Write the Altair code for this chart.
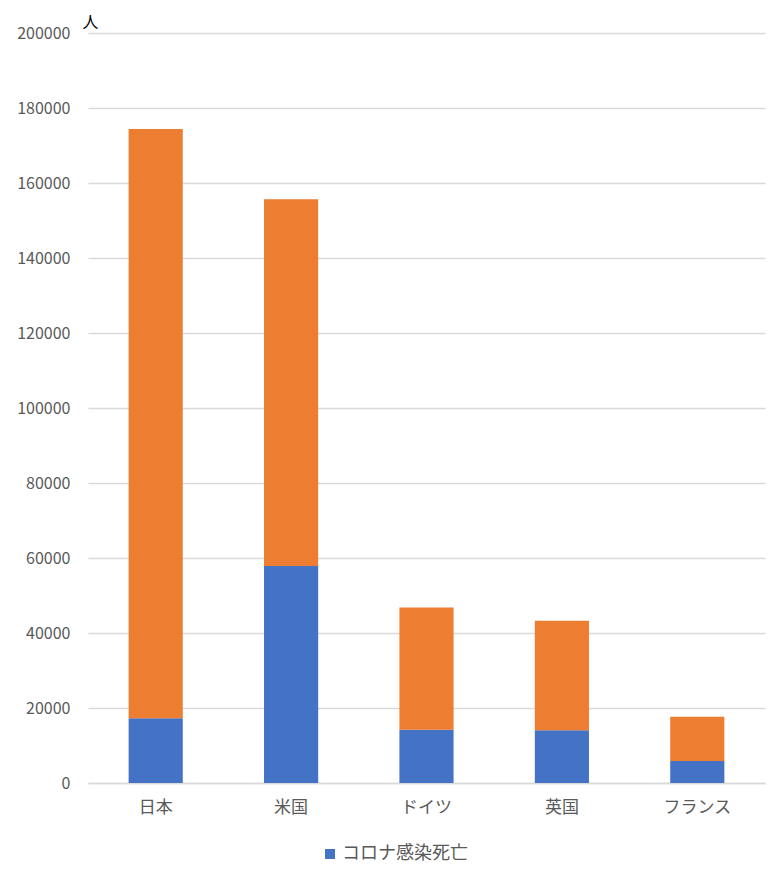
import altair as alt
import pandas as pd

countries = ["日本", "米国", "ドイツ", "英国", "フランス"]
covid_deaths = [17300, 57900, 14200, 14100, 5900]
totals = [174400, 155700, 46800, 43300, 17700]
series = ["コロナ感染死亡", "その他"]
colors = ["#4472C4", "#ED7D31"]
y_ticks = [0, 20000, 40000, 60000, 80000, 100000, 120000, 140000, 160000, 180000, 200000]

rows = []
for c, d, t in zip(countries, covid_deaths, totals):
    rows.append({"country": c, "series": series[0], "value": d, "ord": 0})
    rows.append({"country": c, "series": series[1], "value": t - d, "ord": 1})
df = pd.DataFrame(rows)

FONT = "Noto Sans CJK JP"

chart = alt.Chart(df).mark_bar().encode(
    x=alt.X("country:N", sort=countries,
            scale=alt.Scale(paddingInner=0.6, paddingOuter=0.3),
            axis=alt.Axis(title=None, labelAngle=0, ticks=False, domain=True,
                          domainColor="#d9d9d9", domainWidth=1.5,
                          labelColor="#595959", labelFontSize=17, labelPadding=16,
                          labelFont=FONT)),
    y=alt.Y("value:Q", stack="zero",
            scale=alt.Scale(domain=[0, 200000], nice=False),
            axis=alt.Axis(values=y_ticks, format="d", title="人", titleAngle=0,
                          titleX=-6, titleY=-3, titleAlign="left", titleBaseline="bottom",
                          titleFontSize=16, titleFontWeight="normal", titleColor="#000000",
                          titleFont=FONT,
                          ticks=False, domain=False, grid=True, gridColor="#d9d9d9",
                          gridWidth=1.5, labelColor="#595959", labelFontSize=16,
                          labelPadding=18, labelFont=FONT)),
    color=alt.Color("series:N", scale=alt.Scale(domain=series, range=colors),
                    legend=alt.Legend(values=[series[0]], title=None, orient="none",
                                      legendX=233, legendY=812, symbolType="square",
                                      symbolSize=100, labelFontSize=18, labelColor="#595959",
                                      labelFont=FONT, symbolStrokeWidth=0, labelOffset=3)),
    order=alt.Order("ord:Q", sort="ascending"),
).properties(
    width=677, height=750,
    autosize=alt.AutoSizeParams(type="none"),
    padding={"left": 80, "top": 25, "right": 7, "bottom": 80},
).configure_view(stroke=None)

chart.save("out.html", embed_options={"renderer": "svg", "actions": False})
